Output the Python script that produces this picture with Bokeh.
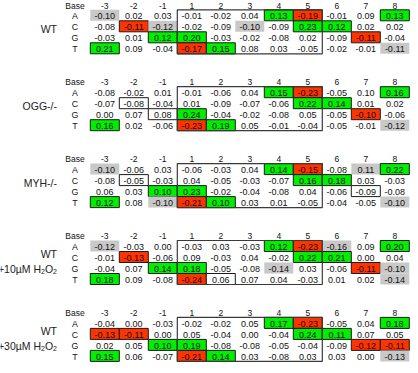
from bokeh.plotting import figure
from bokeh.models import Range1d, ColumnDataSource
from bokeh.embed import file_html
from bokeh.resources import INLINE
from bokeh.core.properties import value

# ---------------- data ----------------
positions = ["-3", "-2", "-1", "1", "2", "3", "4", "5", "6", "7", "8"]
bases = ["A", "C", "G", "T"]

# group labels; "_2" marks a subscript 2
panel_labels = [["WT"], ["OGG-/-"], ["MYH-/-"],
                ["WT", "+10\u00b5M H_2O_2"], ["WT", "+30\u00b5M H_2O_2"]]

wt_vals = [
    [-0.10, 0.02, 0.03, -0.01, -0.02, 0.04, 0.13, -0.19, -0.01, 0.09, 0.13],
    [-0.08, -0.11, -0.12, -0.02, -0.09, -0.10, -0.09, 0.23, 0.12, 0.02, 0.02],
    [-0.03, 0.01, 0.12, 0.20, -0.03, -0.02, -0.08, 0.02, -0.09, -0.11, -0.04],
    [0.21, 0.09, -0.04, -0.17, 0.15, 0.08, 0.03, -0.05, -0.02, -0.01, -0.11],
]
wt_marks = ["s.....gr..g", ".rs..s.gg..", "..gg.....r.", "g..rg.....s"]

ogg_vals = [
    [-0.08, -0.02, 0.01, -0.01, -0.06, 0.04, 0.15, -0.23, -0.05, 0.10, 0.16],
    [-0.07, -0.08, -0.04, 0.01, -0.09, -0.07, -0.06, 0.22, 0.14, 0.01, 0.02],
    [0.00, 0.07, 0.08, 0.24, -0.04, -0.02, -0.08, 0.05, -0.05, -0.10, -0.06],
    [0.16, 0.02, -0.06, -0.23, 0.19, 0.05, -0.01, -0.04, -0.05, -0.01, -0.12],
]
ogg_marks = ["......gr..g", ".b.....gg..", "..bg.....r.", "g..rg.....s"]

myh_vals = [
    [-0.10, -0.06, 0.03, -0.06, -0.03, 0.04, 0.14, -0.15, -0.08, 0.11, 0.22],
    [-0.08, -0.05, -0.03, 0.04, -0.05, -0.03, -0.07, 0.16, 0.18, 0.03, -0.03],
    [0.06, 0.03, 0.10, 0.23, -0.02, -0.04, -0.08, 0.04, -0.06, -0.09, -0.08],
    [0.12, 0.08, -0.10, -0.21, 0.10, 0.03, 0.01, -0.05, -0.04, -0.05, -0.10],
]
myh_marks = ["s.....gr.sg", ".b.....gg..", "..gg.....b.", "g.srg.....s"]

h10_vals = [
    [-0.12, -0.03, 0.00, -0.03, 0.03, -0.03, 0.12, -0.23, -0.16, 0.09, 0.20],
    [-0.01, -0.13, -0.06, 0.09, -0.03, 0.04, -0.02, 0.22, 0.21, 0.00, 0.04],
    [-0.04, 0.07, 0.14, 0.18, -0.05, -0.08, -0.14, 0.03, -0.06, -0.11, -0.10],
    [0.18, 0.09, -0.08, -0.24, 0.06, 0.07, 0.04, -0.03, 0.01, 0.02, -0.14],
]
h10_marks = ["s.....grs.g", ".r.....gg..", "..gg..s..rs", "g..rb.....s"]

h30_vals = [
    [-0.04, 0.00, -0.03, -0.02, -0.02, 0.05, 0.17, -0.23, -0.05, 0.04, 0.18],
    [-0.13, -0.11, 0.00, 0.05, -0.04, 0.00, -0.04, 0.24, 0.11, 0.07, 0.05],
    [0.02, 0.05, 0.10, 0.19, -0.08, -0.08, -0.05, -0.04, -0.09, -0.12, -0.11],
    [0.15, 0.06, -0.07, -0.21, 0.14, 0.03, -0.08, 0.03, 0.03, 0.00, -0.13],
]
h30_marks = ["......gr..g", "rr.....gg..", "..gg.....rr", "g..rg.....s"]

panels = [(wt_vals, wt_marks), (ogg_vals, ogg_marks), (myh_vals, myh_marks),
          (h10_vals, h10_marks), (h30_vals, h30_marks)]

# ---------------- layout / style ----------------
W, H = 410, 365
X0, CW = 97.8, 29.0          # left edge of first column, column width
TOP0, PDY, RH = 17.3, 76.9, 11.0
LABEL_X, BASE_X = 64.5, 82.5
GFS, SFS = 10.5, 7.0         # group label font, subscript font (px)
FONT = value("Liberation Sans")
FILL = {"g": "#00ee00", "r": "#ff3300", "s": "#c8c8c8", "b": "#ffffff"}
BORDERED = {"g", "r", "b"}

# Arial/Liberation Sans advance widths (em) for measuring label pieces
ADV = {"+": 0.584, "1": 0.556, "3": 0.556, "0": 0.556, "2": 0.556, "\u00b5": 0.576,
       "M": 0.833, " ": 0.278, "H": 0.722, "O": 0.778}


def tw(s, fs):
    return sum(ADV.get(c, 0.556) for c in s) * fs


p = figure(width=W, height=H, output_backend="svg", toolbar_location=None,
           x_range=Range1d(8, 8 + W), y_range=Range1d(8 + H, 8),
           min_border=0, outline_line_color=None)
p.axis.visible = False
p.grid.visible = False

cells = dict(x=[], y=[], fill=[], la=[])
nums = dict(x=[], y=[], t=[])
heads = dict(x=[], y=[], t=[])
rowl = dict(x=[], y=[], t=[])
grp = dict(x=[], y=[], t=[])
subs = dict(x=[], y=[], t=[])
box = dict(x=[], y=[], w=[], h=[])

for k, (vals, marks) in enumerate(panels):
    top = TOP0 + k * PDY
    heads["x"].append(BASE_X); heads["y"].append(top - 4.3); heads["t"].append("Base")
    for i, pos in enumerate(positions):
        heads["x"].append(X0 + (i + 0.5) * CW); heads["y"].append(top - 4.3); heads["t"].append(pos)
    for r, b in enumerate(bases):
        yc = top + (r + 0.5) * RH
        rowl["x"].append(BASE_X); rowl["y"].append(yc + 0.6); rowl["t"].append(b)
        mrow = marks[r]
        for i, v in enumerate(vals[r]):
            xc = X0 + (i + 0.5) * CW
            m = mrow[i] if i < len(mrow) else "."
            if m in FILL:
                cells["x"].append(xc); cells["y"].append(yc)
                cells["fill"].append(FILL[m]); cells["la"].append(1.0 if m in BORDERED else 0.0)
            nums["x"].append(xc); nums["y"].append(yc + 0.7); nums["t"].append("%.2f" % v)
    # outline around positions 1..5
    i1, i5 = positions.index("1"), positions.index("5")
    box["x"].append(X0 + (i1 + i5 + 1) / 2 * CW)
    box["y"].append(top + 2 * RH)
    box["w"].append((i5 - i1 + 1) * CW)
    box["h"].append(4 * RH)
    lines = panel_labels[k]
    ys = [top + 19.0] if len(lines) == 1 else [top + 13.8, top + 28.3]
    for t, yy in zip(lines, ys):
        # split into normal / subscript pieces, laid out right-to-left
        pieces = []
        for j, part in enumerate(t.split("_")):
            if j == 0:
                pieces.append((part, False))
            else:
                pieces.append((part[0], True))
                if part[1:]:
                    pieces.append((part[1:], False))
        xr = LABEL_X
        for txt, is_sub in reversed(pieces):
            if is_sub:
                subs["x"].append(xr); subs["y"].append(yy + 3.0); subs["t"].append(txt)
                xr -= tw(txt, SFS)
            else:
                grp["x"].append(xr); grp["y"].append(yy); grp["t"].append(txt)
                xr -= tw(txt, GFS)

cs = ColumnDataSource(cells)
p.rect("x", "y", width=CW, height=RH, source=cs, fill_color="fill",
       line_color="#1a1a1a", line_alpha="la", line_width=1)
p.rect("x", "y", width="w", height="h", source=ColumnDataSource(box),
       fill_alpha=0, line_color="#3a3a3a", line_width=1.2)

p.text("x", "y", text="t", source=ColumnDataSource(nums), text_font=FONT,
       text_font_size="9px", text_align="center", text_baseline="middle", text_color="#111111")
p.text("x", "y", text="t", source=ColumnDataSource(heads), text_font=FONT,
       text_font_size="8.5px", text_align="center", text_baseline="middle", text_color="#111111")
p.text("x", "y", text="t", source=ColumnDataSource(rowl), text_font=FONT,
       text_font_size="8.8px", text_align="center", text_baseline="middle", text_color="#111111")
p.text("x", "y", text="t", source=ColumnDataSource(grp), text_font=FONT,
       text_font_size="%.1fpx" % GFS, text_align="right", text_baseline="middle",
       text_color="#222222")
p.text("x", "y", text="t", source=ColumnDataSource(subs), text_font=FONT,
       text_font_size="%.1fpx" % SFS, text_align="right", text_baseline="middle",
       text_color="#222222")

open("out.html", "w").write(file_html(p, INLINE))
